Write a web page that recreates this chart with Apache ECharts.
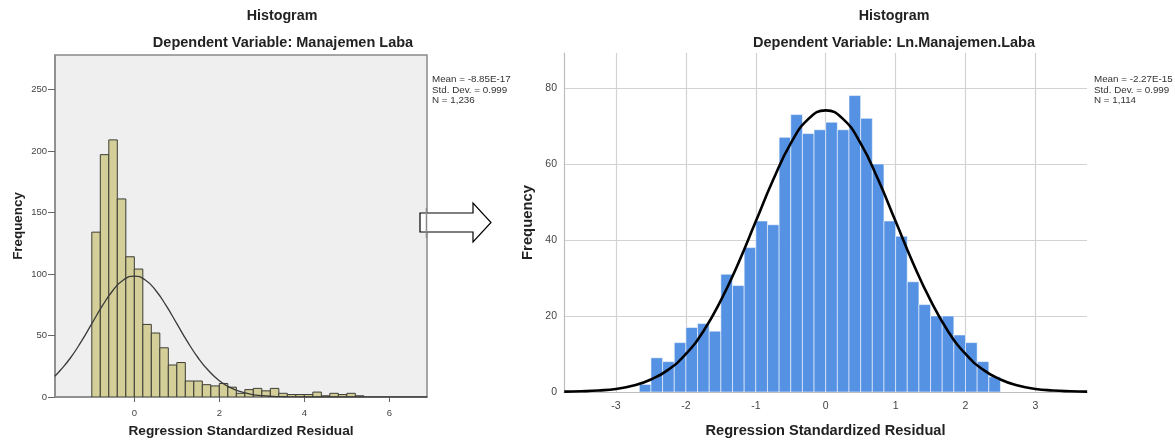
<!DOCTYPE html>
<html><head><meta charset="utf-8">
<script src="https://cdn.jsdelivr.net/npm/echarts@6/dist/echarts.min.js"></script>
<style>html,body{margin:0;padding:0;background:#fff}#c{width:1175px;height:443px}</style>
</head><body><div id="c"></div>
<script>
// ---------- Left histogram: Dependent Variable: Manajemen Laba ----------
const leftBinStart = -1.0;
const leftBinWidth = 0.2;
const leftCounts = [134,197,209,161,114,104,59,52,40,26,28,13,13,10,9,11,8,3,6,7,5,7,3,2,2,2,4,1,3,2,3,1];
const leftCurveX = [-1.87,-1.75,-1.5,-1.25,-1,-0.75,-0.5,-0.25,0,0.25,0.5,0.75,1,1.25,1.5,1.75,2,2.25,2.5,2.75,3,3.25,3.5,3.75,4,4.5,5,5.5,6,6.5,6.89];
const leftCurveY = [16.9,21.3,31.9,45.0,59.6,74.2,86.8,95.3,98.3,95.3,86.8,74.2,59.6,45.0,31.9,21.3,13.3,7.8,4.3,2.2,1.1,0.5,0.2,0.1,0,0,0,0,0,0,0];
const leftXTicks = [0,2,4,6];
const leftYTicks = [0,50,100,150,200,250];
const leftStats = ['Mean = -8.85E-17','Std. Dev. = 0.999','N = 1,236'];
const leftTitle = 'Histogram';
const leftSubtitle = 'Dependent Variable: Manajemen Laba';

// ---------- Right histogram: Dependent Variable: Ln.Manajemen.Laba ----------
const rightBinStart = -2.6667;
const rightBinWidth = 0.16667;
const rightCounts = [2,9,8,13,17,18,16,31,28,38,45,44,67,73,68,69,71,69,78,72,60,45,41,29,23,20,20,15,13,8,4];
const rightCurveX = [-3.74,-3.5,-3.25,-3,-2.75,-2.5,-2.25,-2,-1.75,-1.5,-1.25,-1,-0.75,-0.5,-0.25,0,0.25,0.5,0.75,1,1.25,1.5,1.75,2,2.25,2.5,2.75,3,3.25,3.5,3.74];
const rightCurveY = [0.1,0.2,0.4,0.8,1.7,3.3,5.9,10.0,16.0,24.1,33.9,44.9,55.9,65.4,71.8,74.1,71.8,65.4,55.9,44.9,33.9,24.1,16.0,10.0,5.9,3.3,1.7,0.8,0.4,0.2,0.1];
const rightXTicks = [-3,-2,-1,0,1,2,3];
const rightYTicks = [0,20,40,60,80];
const rightStats = ['Mean = -2.27E-15','Std. Dev. = 0.999','N = 1,114'];
const rightTitle = 'Histogram';
const rightSubtitle = 'Dependent Variable: Ln.Manajemen.Laba';

const xName = 'Regression Standardized Residual';
const yName = 'Frequency';
const FONT = 'Arial, "Liberation Sans", sans-serif';

function binData(start, width, counts) {
  return counts.map((c, i) => [start + i * width, start + (i + 1) * width, c]);
}
function zip(xs, ys) { return xs.map((x, i) => [x, ys[i]]); }

function histRender(style) {
  return function (params, api) {
    const p0 = api.coord([api.value(0), 0]);
    const p1 = api.coord([api.value(1), api.value(2)]);
    return {
      type: 'rect',
      shape: { x: p0[0], y: p1[1], width: p1[0] - p0[0], height: p0[1] - p1[1] },
      style: style
    };
  };
}

const chart = echarts.init(document.getElementById('c'), null, { renderer: 'canvas' });

const option = {
  backgroundColor: '#ffffff',
  animation: false,
  grid: [
    { left: 55, top: 55, width: 372, height: 345, show: true, backgroundColor: '#EFEFEF', borderColor: '#8a8a8a', borderWidth: 1.5 },
    { left: 564, top: 53, width: 523, height: 341.5, show: false }
  ],
  xAxis: [
    {
      gridIndex: 0, type: 'value', min: -1.866, max: 6.886,
      axisLine: { show: true, onZero: false, lineStyle: { color: '#8a8a8a', width: 1.5 } },
      axisTick: { show: true, customValues: leftXTicks, length: 5, lineStyle: { color: '#666' } },
      axisLabel: { customValues: leftXTicks, color: '#444', fontSize: 9.5, fontFamily: FONT, margin: 11 },
      splitLine: { show: false },
      name: xName, nameLocation: 'middle', nameGap: 27,
      nameTextStyle: { color: '#222', fontWeight: 'bold', fontSize: 13.7, fontFamily: FONT }
    },
    {
      gridIndex: 1, type: 'value', min: -3.744, max: 3.738,
      axisLine: { show: true, onZero: false, lineStyle: { color: '#bdbdbd', width: 1.2 } },
      axisTick: { show: false, customValues: rightXTicks },
      axisLabel: { customValues: rightXTicks, color: '#444', fontSize: 10.5, fontFamily: FONT, margin: 9 },
      splitLine: { show: true, lineStyle: { color: '#d2d2d2', width: 1.2 } },
      name: xName, nameLocation: 'middle', nameGap: 31,
      nameTextStyle: { color: '#222', fontWeight: 'bold', fontSize: 14.6, fontFamily: FONT }
    }
  ],
  yAxis: [
    {
      gridIndex: 0, type: 'value', min: 0, max: 278,
      axisLine: { show: true, onZero: false, lineStyle: { color: '#8a8a8a', width: 1.5 } },
      axisTick: { show: true, customValues: leftYTicks, length: 7, lineStyle: { color: '#666' } },
      axisLabel: { customValues: leftYTicks, color: '#444', fontSize: 9.5, fontFamily: FONT, margin: 8 },
      splitLine: { show: false },
      name: yName, nameLocation: 'middle', nameRotate: 90, nameGap: 30,
      nameTextStyle: { color: '#222', fontWeight: 'bold', fontSize: 13.4, fontFamily: FONT }
    },
    {
      gridIndex: 1, type: 'value', min: 0, max: 89.2,
      axisLine: { show: true, onZero: false, lineStyle: { color: '#bdbdbd', width: 1.2 } },
      axisTick: { show: false, customValues: rightYTicks },
      axisLabel: { customValues: rightYTicks, color: '#444', fontSize: 10.5, fontFamily: FONT, margin: 7 },
      splitLine: { show: true, lineStyle: { color: '#d2d2d2', width: 1.2 } },
      name: yName, nameLocation: 'middle', nameRotate: 90, nameGap: 29,
      nameTextStyle: { color: '#222', fontWeight: 'bold', fontSize: 14.8, fontFamily: FONT }
    }
  ],
  series: [
    {
      type: 'custom', xAxisIndex: 0, yAxisIndex: 0, clip: true,
      data: binData(leftBinStart, leftBinWidth, leftCounts),
      encode: { x: [0, 1], y: 2 },
      renderItem: histRender({ fill: '#D4CF98', stroke: '#3c3c36', lineWidth: 1 })
    },
    {
      type: 'line', xAxisIndex: 0, yAxisIndex: 0, data: zip(leftCurveX, leftCurveY),
      smooth: true, showSymbol: false, symbol: 'none',
      lineStyle: { color: '#3a3a3a', width: 1.3 }, z: 5
    },
    {
      type: 'custom', xAxisIndex: 1, yAxisIndex: 1, clip: true,
      data: binData(rightBinStart, rightBinWidth, rightCounts),
      encode: { x: [0, 1], y: 2 },
      renderItem: histRender({ fill: '#5592E3', stroke: 'rgba(255,255,255,0.55)', lineWidth: 1 })
    },
    {
      type: 'line', xAxisIndex: 1, yAxisIndex: 1, data: zip(rightCurveX, rightCurveY),
      smooth: true, showSymbol: false, symbol: 'none',
      lineStyle: { color: '#000000', width: 2.6 }, z: 5
    }
  ],
  graphic: [
    { type: 'text', x: 282, y: 16, style: { text: leftTitle, font: 'bold 14.3px ' + FONT, fill: '#222', textAlign: 'center', textVerticalAlign: 'middle' } },
    { type: 'text', x: 283, y: 43, style: { text: leftSubtitle, font: 'bold 14.5px ' + FONT, fill: '#222', textAlign: 'center', textVerticalAlign: 'middle' } },
    { type: 'text', x: 894, y: 16, style: { text: rightTitle, font: 'bold 14.3px ' + FONT, fill: '#222', textAlign: 'center', textVerticalAlign: 'middle' } },
    { type: 'text', x: 894, y: 43, style: { text: rightSubtitle, font: 'bold 14.5px ' + FONT, fill: '#222', textAlign: 'center', textVerticalAlign: 'middle' } },
    { type: 'text', x: 432, y: 74, style: { text: leftStats.join('\n'), font: '9.8px ' + FONT, lineHeight: 10.7, fill: '#333', textAlign: 'left', textVerticalAlign: 'top' } },
    { type: 'text', x: 1094, y: 74, style: { text: rightStats.join('\n'), font: '9.8px ' + FONT, lineHeight: 10.7, fill: '#333', textAlign: 'left', textVerticalAlign: 'top' } },
    { type: 'polygon', z: 100, shape: { points: [[420,213],[473,213],[473,203],[491,222.5],[473,242],[473,232],[420,232]] }, style: { fill: '#ffffff', stroke: '#000000', lineWidth: 1.2 } },
    { type: 'line', z: 101, shape: { x1: 426.5, y1: 208, x2: 426.5, y2: 238 }, style: { stroke: '#8a8a8a', lineWidth: 1.5 } }
  ]
};
chart.setOption(option);
</script>
</body></html>
